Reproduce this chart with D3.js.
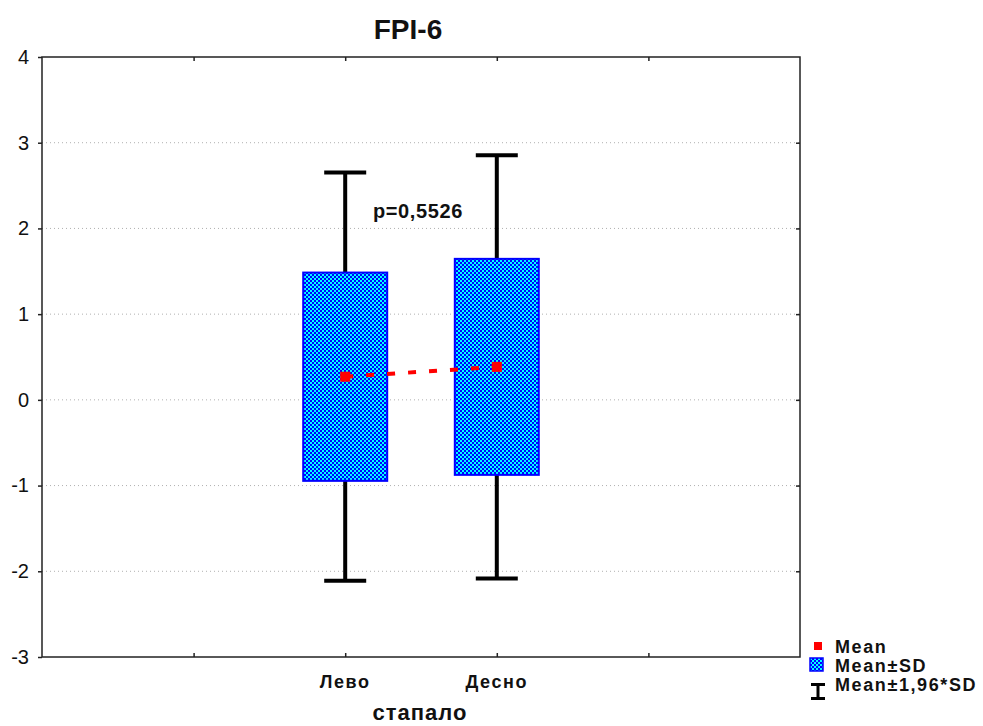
<!DOCTYPE html>
<html>
<head>
<meta charset="utf-8">
<script src="https://cdn.jsdelivr.net/npm/d3@7"></script>
<style>
  html, body { margin: 0; padding: 0; background: #fff; }
  svg { display: block; font-family: Arial, "Liberation Sans", sans-serif; }
</style>
</head>
<body>
<svg id="chart" width="983" height="726"></svg>
<script>
// Groups and their summary statistics
const categories = ["Лево", "Десно"];
const means = [0.27, 0.385];
const sds = [1.215, 1.26];
const yTicks = [-3, -2, -1, 0, 1, 2, 3, 4];
const pLabel = "p=0,5526";
const legendLabels = ["Mean", "Mean±SD", "Mean±1,96*SD"];

const svg = d3.select("#chart");
const plotL = 42, plotR = 800, plotT = 57, plotB = 657;

// x: six equally spaced slots, categories sit at slots 2 and 3
const x = d3.scaleLinear().domain([0, 5]).range([plotL, plotR]);
const catPos = categories.map((c, i) => i + 2);
const y = d3.scaleLinear().domain([-3, 4]).range([plotB, plotT]);

// Checkered fill for the ±SD boxes
const defs = svg.append("defs");
const pat = defs.append("pattern").attr("id", "check")
  .attr("patternUnits", "userSpaceOnUse").attr("width", 4).attr("height", 4);
pat.append("rect").attr("width", 4).attr("height", 4).attr("fill", "#0000ff");
pat.append("rect").attr("x", 0).attr("y", 0).attr("width", 2).attr("height", 2).attr("fill", "#00ffff");
pat.append("rect").attr("x", 2).attr("y", 2).attr("width", 2).attr("height", 2).attr("fill", "#00ffff");

// Dotted horizontal gridlines
svg.append("g").selectAll("line")
  .data(yTicks.filter(t => t > -3 && t < 4))
  .join("line")
  .attr("x1", plotL).attr("x2", plotR)
  .attr("y1", d => y(d)).attr("y2", d => y(d))
  .attr("stroke", "#b0b0b0").attr("stroke-width", 1)
  .attr("stroke-dasharray", "1,3");

// Frame
svg.append("rect").attr("x", plotL).attr("y", plotT)
  .attr("width", plotR - plotL).attr("height", plotB - plotT)
  .attr("fill", "none").attr("stroke", "#222").attr("stroke-width", 1.5);

// Left axis
const yAxis = svg.append("g").attr("transform", `translate(${plotL},0)`)
  .call(d3.axisLeft(y).tickValues(yTicks).tickSize(4).tickPadding(9).tickFormat(d => String(d)));
yAxis.select(".domain").remove();
yAxis.selectAll("line").attr("stroke", "#222").attr("stroke-width", 1.5);
yAxis.selectAll("text").attr("font-size", 20).attr("fill", "#111")
  .attr("font-family", "Arial, 'Liberation Sans', sans-serif");

// Right axis (inward ticks)
const yAxisR = svg.append("g").attr("transform", `translate(${plotR},0)`)
  .call(d3.axisLeft(y).tickValues(yTicks.filter(t => t > -3 && t < 4)).tickSize(4).tickFormat(""));
yAxisR.select(".domain").remove();
yAxisR.selectAll("line").attr("stroke", "#222").attr("stroke-width", 1.5);

// Bottom axis (inward ticks)
const xAxis = svg.append("g").attr("transform", `translate(0,${plotB})`)
  .call(d3.axisTop(x).tickValues([1, 2, 3, 4]).tickSize(4).tickFormat(""));
xAxis.select(".domain").remove();
xAxis.selectAll("line").attr("stroke", "#222").attr("stroke-width", 1.5);

// Top axis (inward ticks)
const xAxisT = svg.append("g").attr("transform", `translate(0,${plotT})`)
  .call(d3.axisBottom(x).tickValues([1, 2, 3, 4]).tickSize(4).tickFormat(""));
xAxisT.select(".domain").remove();
xAxisT.selectAll("line").attr("stroke", "#222").attr("stroke-width", 1.5);

// Category labels
svg.append("g").selectAll("text").data(categories).join("text")
  .attr("x", (d, i) => x(catPos[i])).attr("y", 688)
  .attr("text-anchor", "middle").attr("font-size", 18).attr("font-weight", "bold")
  .attr("letter-spacing", 1.6).attr("fill", "#111").text(d => d);

// Title and axis title
svg.append("text").attr("x", 408).attr("y", 39).attr("text-anchor", "middle")
  .attr("font-size", 28).attr("font-weight", "bold").attr("fill", "#111").text("FPI-6");
svg.append("text").attr("x", 420).attr("y", 720).attr("text-anchor", "middle")
  .attr("font-size", 22).attr("font-weight", "bold").attr("letter-spacing", 1)
  .attr("fill", "#111").text("стапало");

const boxW = 84, capW = 42;
const groups = categories.map((c, i) => ({
  pos: catPos[i], mean: means[i], sd: sds[i]
}));

// Whiskers: mean ± 1.96*SD
const wg = svg.append("g");
groups.forEach(g => {
  const cx = x(g.pos);
  const hi = g.mean + 1.96 * g.sd, lo = g.mean - 1.96 * g.sd;
  wg.append("line").attr("x1", cx).attr("x2", cx).attr("y1", y(hi)).attr("y2", y(lo))
    .attr("stroke", "#000").attr("stroke-width", 4);
  [hi, lo].forEach(v => wg.append("line")
    .attr("x1", cx - capW / 2).attr("x2", cx + capW / 2)
    .attr("y1", y(v)).attr("y2", y(v))
    .attr("stroke", "#000").attr("stroke-width", 4));
});

// Boxes: mean ± SD
svg.append("g").selectAll("rect").data(groups).join("rect")
  .attr("x", d => x(d.pos) - boxW / 2)
  .attr("y", d => y(d.mean + d.sd))
  .attr("width", boxW)
  .attr("height", d => y(d.mean - d.sd) - y(d.mean + d.sd))
  .attr("fill", "url(#check)").attr("stroke", "#0000ff").attr("stroke-width", 2);

// Dashed line connecting the means
svg.append("path")
  .datum(groups)
  .attr("d", d3.line().x(d => x(d.pos)).y(d => y(d.mean)))
  .attr("fill", "none").attr("stroke", "#ff0000").attr("stroke-width", 4)
  .attr("stroke-dasharray", "8,13");

// Mean markers
svg.append("g").selectAll("rect").data(groups).join("rect")
  .attr("x", d => x(d.pos) - 5).attr("y", d => y(d.mean) - 5)
  .attr("width", 10).attr("height", 10).attr("fill", "#ff0000");

// p-value annotation
svg.append("text").attr("x", 373).attr("y", 218)
  .attr("font-size", 20).attr("font-weight", "bold").attr("letter-spacing", 0.6)
  .attr("fill", "#111").text(pLabel);

// Legend
const lg = svg.append("g").attr("font-size", 18).attr("font-weight", "bold").attr("fill", "#111");
lg.append("rect").attr("x", 814).attr("y", 642).attr("width", 8).attr("height", 8).attr("fill", "#ff0000");
lg.append("rect").attr("x", 810).attr("y", 658).attr("width", 13).attr("height", 13)
  .attr("fill", "url(#check)").attr("stroke", "#0000ff").attr("stroke-width", 1.5);
lg.append("line").attr("x1", 818).attr("x2", 818).attr("y1", 684).attr("y2", 699).attr("stroke", "#000").attr("stroke-width", 3);
lg.append("line").attr("x1", 811).attr("x2", 825).attr("y1", 684.5).attr("y2", 684.5).attr("stroke", "#000").attr("stroke-width", 3);
lg.append("line").attr("x1", 811).attr("x2", 825).attr("y1", 698.5).attr("y2", 698.5).attr("stroke", "#000").attr("stroke-width", 3);
lg.selectAll("text").data(legendLabels).join("text")
  .attr("x", 835).attr("y", (d, i) => 653 + i * 19)
  .attr("letter-spacing", 1.6).text(d => d);
</script>
</body>
</html>
